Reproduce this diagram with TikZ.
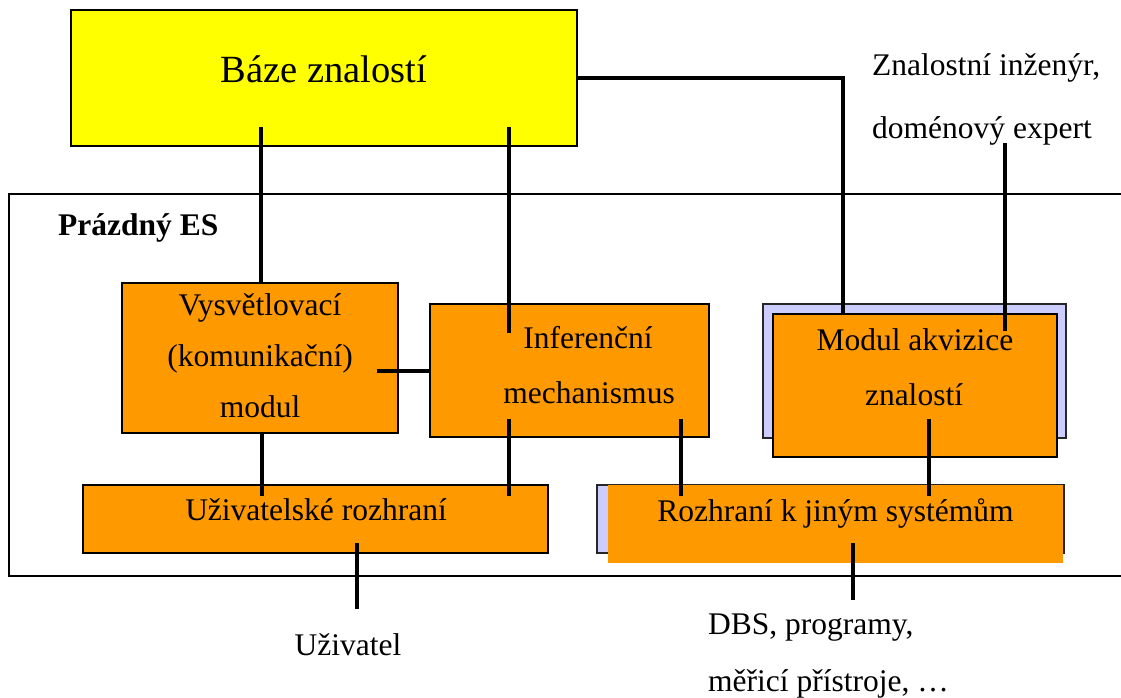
\documentclass[tikz,border=0pt]{standalone}
\usepackage{fontspec}
\setmainfont{Liberation Serif}
\usetikzlibrary{calc}
\definecolor{boxorange}{HTML}{FF9900}
\definecolor{kbyellow}{HTML}{FFFF00}
\definecolor{shadowlav}{HTML}{CCCCFF}
\begin{document}
\begin{tikzpicture}[x=1pt,y=-1pt,
  panel/.style={draw=black, line width=2.2pt, fill=boxorange, inner sep=0pt, outer sep=0pt},
  shadowbox/.style={draw=black!85, line width=2.2pt, fill=shadowlav, inner sep=0pt, outer sep=0pt},
  plainbox/.style={fill=boxorange, inner sep=0pt, outer sep=0pt},
  txt/.style={inner sep=0pt, anchor=base, font=\fontsize{31.5}{37}\selectfont},
  ltxt/.style={txt, anchor=base west},
  conn/.style={line width=3.6pt, line cap=butt},
  frame/.style={line width=2.4pt}]
\useasboundingbox (0,0) rectangle (1121,697);

% frame of the empty expert system shell (open to the right)
\coordinate (esTR) at (1121,194);
\coordinate (esTL) at (9,194);
\coordinate (esBL) at (9,576);
\coordinate (esBR) at (1121,576);
\draw[frame] (esTR) -- (esTL) -- (esBL) -- (esBR);
\node[ltxt, font=\fontsize{31.5}{37}\selectfont\bfseries] (es) at (58,235) {Prázdný ES};

% knowledge base
\node[panel, fill=kbyellow, line width=2.8pt, minimum width=506pt, minimum height=136pt] (baze) at (324,78) {};
\node[txt, font=\fontsize{38.5}{44}\selectfont] (bazet) at (324,82) {Báze znalostí};

% modules
\node[panel, minimum width=276pt, minimum height=150pt] (vys) at (260,358) {};
\node[txt] (vys1) at (260,315) {Vysvětlovací};
\node[txt] (vys2) at (260,366) {(komunikační)};
\node[txt] (vys3) at (260,417) {modul};

\node[panel, minimum width=279pt, minimum height=133pt] (inf) at (569.5,370.5) {};
\node[txt] (inf1) at (588,348) {Inferenční};
\node[txt] (inf2) at (589,403) {mechanismus};

\node[shadowbox, minimum width=303pt, minimum height=134pt] (akvs) at (914.5,371) {};
\node[panel, minimum width=284pt, minimum height=143pt] (akv) at (915,385.5) {};
\node[txt] (akv1) at (915,350) {Modul akvizice};
\node[txt] (akv2) at (914,405) {znalostí};

\node[panel, minimum width=465pt, minimum height=68pt] (uzr) at (315.5,519) {};
\node[txt] (uzrt) at (316,520) {Uživatelské rozhraní};

\node[shadowbox, minimum width=467pt, minimum height=68pt] (rozs) at (830.5,519) {};
\node[plainbox, minimum width=455pt, minimum height=78pt] (roz) at (835.5,524) {};
\node[txt] (rozt) at (835.5,521) {Rozhraní k jiným systémům};

% outside actors
\node[ltxt] (ing1) at (872,75) {Znalostní inženýr,};
\node[ltxt] (ing2) at (872,138) {doménový expert};
\node[txt] (user) at (348,655) {Uživatel};
\node[ltxt] (dbs1) at (708,634) {DBS, programy,};
\node[ltxt] (dbs2) at (708,691) {měřicí přístroje, …};

% connector end points inside the boxes
\coordinate (b1) at (261,127);
\coordinate (b2) at (509,127);
\coordinate (i2) at (509,333);
\coordinate (e1) at (1005,143);
\coordinate (a1) at (1005,331);
\coordinate (v1) at (377,371);
\coordinate (u1) at (262,496);
\coordinate (i3) at (509,419);
\coordinate (u2) at (509,496);
\coordinate (i4) at (681,419);
\coordinate (r1) at (681,496);
\coordinate (a2) at (929,419);
\coordinate (r2) at (929,496);
\coordinate (u3) at (357,543);
\coordinate (p1) at (357,609);
\coordinate (r3) at (853,543);
\coordinate (d1) at (853,600);
\coordinate (k1) at (843,315);

% connectors
\draw[conn] (b1) -- (b1 |- vys.north);
\draw[conn] (b2) -- (i2);
\draw[conn] (baze.east) -| (k1);
\draw[conn] (e1) -- (a1);
\draw[conn] (v1) -- (v1 -| inf.west);
\draw[conn] (vys.south -| u1) -- (u1);
\draw[conn] (i3) -- (u2);
\draw[conn] (i4) -- (r1);
\draw[conn] (a2) -- (r2);
\draw[conn] (u3) -- (p1);
\draw[conn] (r3) -- (d1);
\end{tikzpicture}
\end{document}
